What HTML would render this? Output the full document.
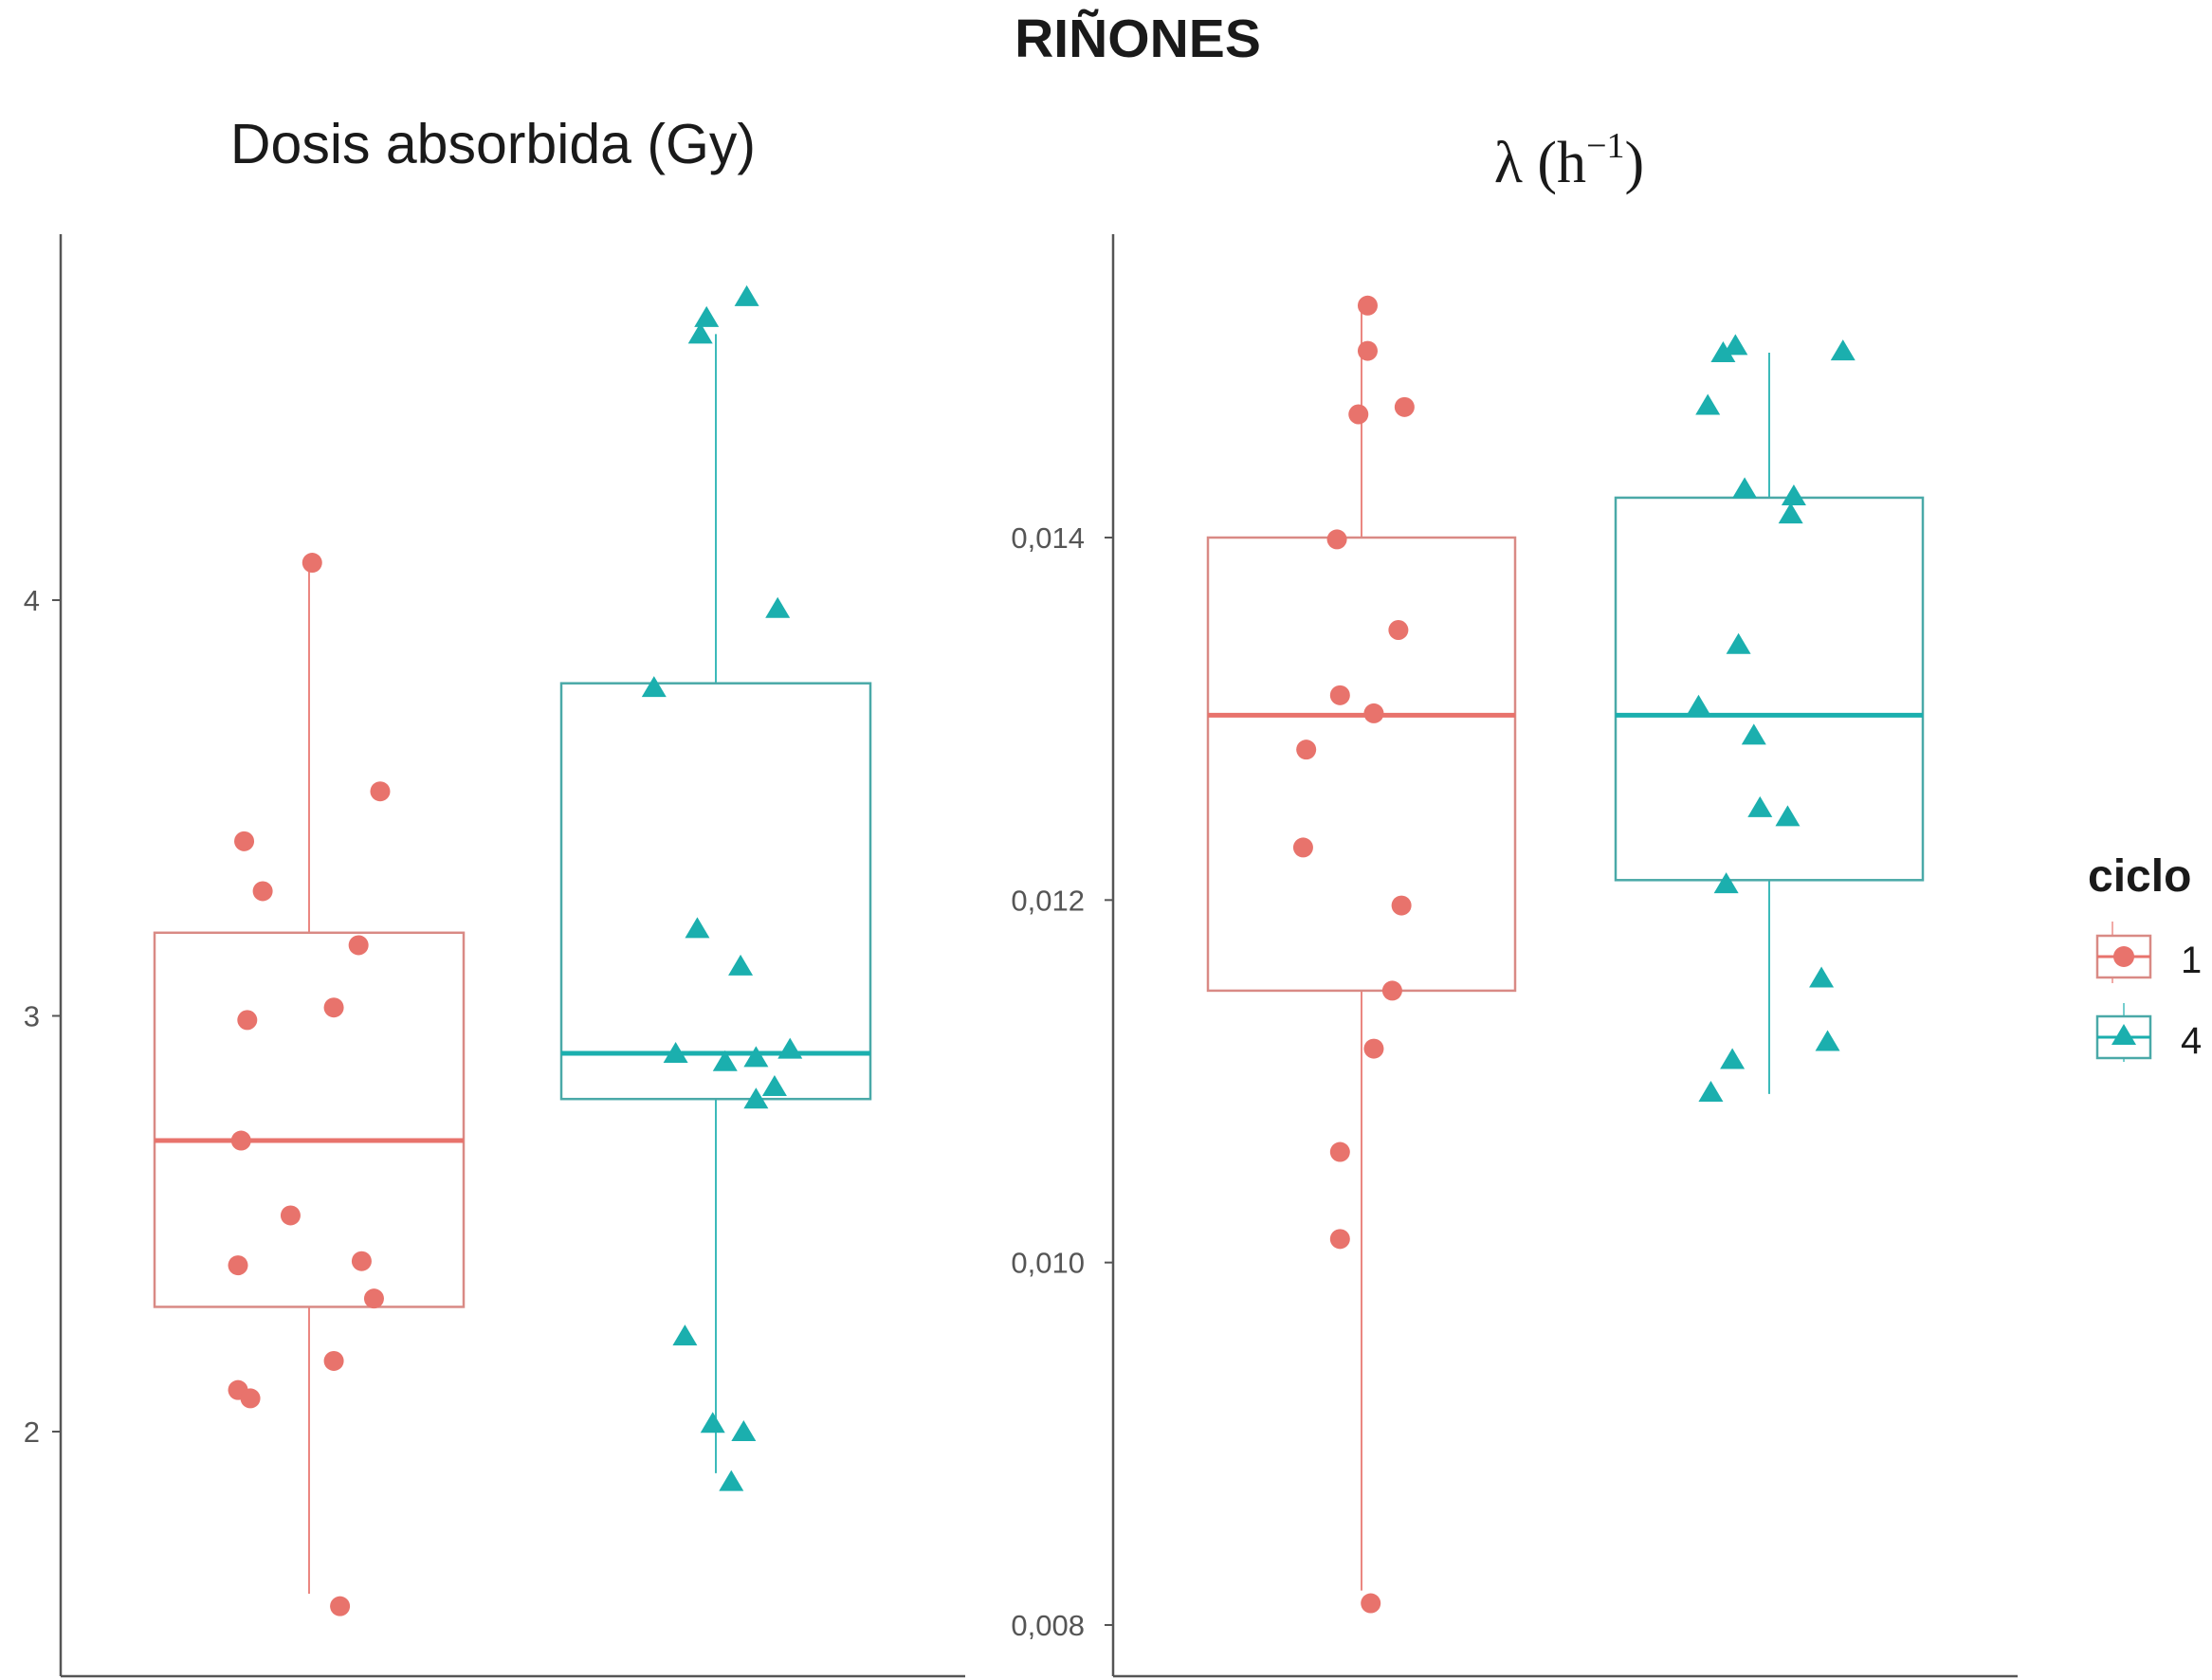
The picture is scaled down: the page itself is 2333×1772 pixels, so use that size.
<!DOCTYPE html>
<html><head><meta charset="utf-8"><style>
html,body{margin:0;padding:0;background:#fff}
svg{display:block}
text{font-family:"Liberation Sans",Arial,sans-serif}
</style></head><body>
<svg id="chart" width="2333" height="1772" viewBox="0 0 2333 1772" xmlns="http://www.w3.org/2000/svg">
<text x="1200" y="60" font-size="57" font-weight="bold" text-anchor="middle" fill="#1a1a1a">RIÑONES</text>
<text x="520" y="172" font-size="59" text-anchor="middle" fill="#1a1a1a">Dosis absorbida (Gy)</text>
<text x="1655" y="192" font-size="62" text-anchor="middle" fill="#1a1a1a" style="font-family:'Liberation Serif',serif">λ (h<tspan font-size="38" dy="-26">−1</tspan><tspan dy="26">)</tspan></text>
<g id="p1"></g>
<g id="p2"></g>
<g>
<text x="2202" y="940" font-size="48" font-weight="bold" fill="#1a1a1a">ciclo</text>
<g>
<line x1="2228" y1="972" x2="2228" y2="1037" stroke="#E8736C" stroke-width="2" opacity="0.6"/>
<rect x="2212" y="987" width="56" height="44" fill="#fff" stroke="#d98a85" stroke-width="2.5"/>
<line x1="2212" y1="1009" x2="2268" y2="1009" stroke="#E8736C" stroke-width="3"/>
<circle cx="2240" cy="1009" r="11" fill="#E8736C"/>
<text x="2300" y="1026" font-size="40" fill="#1a1a1a">1</text></g>
<g>
<line x1="2240" y1="1058" x2="2240" y2="1120" stroke="#1BAFAE" stroke-width="2" opacity="0.6"/>
<rect x="2212" y="1072" width="56" height="44" fill="#fff" stroke="#4aa9a8" stroke-width="2.5"/>
<line x1="2212" y1="1094" x2="2268" y2="1094" stroke="#1BAFAE" stroke-width="3"/>
<polygon points="2240,1080 2253,1102 2227,1102" fill="#1BAFAE"/>
<text x="2300" y="1111" font-size="40" fill="#1a1a1a">4</text></g>
</g>
</svg>
<script>
const NS='http://www.w3.org/2000/svg';
const RED='#E8736C', TEAL='#1BAFAE';
// Panel 1: Dosis absorbida (Gy)
const doseTicks=[2,3,4];
const doseTickLabels=['2','3','4'];
const doseStats1=[1.61,2.30,2.70,3.20,4.09]; // min,q1,med,q3,max
const doseStats4=[1.90,2.80,2.91,3.80,4.64];
const dosePts1=[4.09,3.54,3.42,3.30,3.17,3.02,2.99,2.70,2.52,2.40,2.41,2.32,2.17,2.10,2.08,1.58];
const doseJit1=[0.01,0.23,-0.21,-0.15,0.16,0.08,-0.20,-0.22,-0.06,-0.23,0.17,0.21,0.08,-0.23,-0.19,0.10];
const dosePts4=[4.73,4.68,4.64,3.98,3.79,3.21,3.12,2.91,2.89,2.90,2.92,2.83,2.80,2.23,2.02,2.00,1.88];
const doseJit4=[0.10,-0.03,-0.05,0.20,-0.20,-0.06,0.08,-0.13,0.03,0.13,0.24,0.19,0.13,-0.10,-0.01,0.09,0.05];
// Panel 2: lambda (h^-1)
const lamTicks=[0.008,0.010,0.012,0.014];
const lamTickLabels=['0,008','0,010','0,012','0,014'];
const lamStats1=[0.00819,0.01150,0.01302,0.01400,0.01529];
const lamStats4=[0.01093,0.01211,0.01302,0.01422,0.01502];
const lamPts1=[0.01528,0.01503,0.01468,0.01472,0.01399,0.01349,0.01313,0.01303,0.01283,0.01229,0.01197,0.01150,0.01118,0.01061,0.01013,0.00812];
const lamJit1=[0.02,0.02,-0.01,0.14,-0.08,0.12,-0.07,0.04,-0.18,-0.19,0.13,0.10,0.04,-0.07,-0.07,0.03];
const lamPts4=[0.01506,0.01502,0.01503,0.01473,0.01427,0.01423,0.01413,0.01341,0.01307,0.01291,0.01251,0.01246,0.01209,0.01157,0.01112,0.01122,0.01094];
const lamJit4=[-0.11,-0.15,0.24,-0.20,-0.08,0.08,0.07,-0.10,-0.23,-0.05,-0.03,0.06,-0.14,0.17,-0.12,0.19,-0.19];

function el(tag,attrs,parent){const e=document.createElementNS(NS,tag);for(const k in attrs)e.setAttribute(k,attrs[k]);parent.appendChild(e);return e;}

function panel(g,cfg){
  const y=v=>cfg.y0+(v-cfg.v0)*(cfg.y1-cfg.y0)/(cfg.v1-cfg.v0);
  const cx=c=>cfg.cx[c];
  const bw=cfg.bw;
  const ya=el('line',{x1:cfg.ax,y1:cfg.top,x2:cfg.ax,y2:cfg.bot,stroke:'#555','stroke-width':2.5},g);
  
  
  const xa=el('line',{x1:cfg.ax,y1:cfg.bot,x2:cfg.right,y2:cfg.bot,stroke:'#555','stroke-width':2.5},g);
  
  
  cfg.ticks.forEach((t,i)=>{
    const tk=el('line',{x1:cfg.ax-9,y1:y(t),x2:cfg.ax,y2:y(t),stroke:'#555','stroke-width':2},g);
    
    
    const tl=el('text',{x:cfg.ax-cfg.lo,y:y(t)+11,'font-size':31,'text-anchor':'end',fill:'#555'},g);
    tl.textContent=cfg.labels[i];
    
    
  });
  [[cfg.s1,RED,'#d98a85','ciclo-1'],[cfg.s4,TEAL,'#4aa9a8','ciclo-4']].forEach(([s,col,bc,nm],c)=>{
    const x=cx(c);
    const bg=el('g',{},g);
    
    
    el('line',{x1:x,y1:y(s[0]),x2:x,y2:y(s[1]),stroke:col,'stroke-width':2,opacity:0.85},bg);
    el('line',{x1:x,y1:y(s[3]),x2:x,y2:y(s[4]),stroke:col,'stroke-width':2,opacity:0.85},bg);
    el('rect',{x:x-bw/2,y:y(s[3]),width:bw,height:y(s[1])-y(s[3]),fill:'none',stroke:bc,'stroke-width':2.5},bg);
    el('line',{x1:x-bw/2,y1:y(s[2]),x2:x+bw/2,y2:y(s[2]),stroke:col,'stroke-width':5},bg);
  });
  cfg.p1.forEach((v,i)=>{
    const pt=el('circle',{cx:cx(0)+cfg.j1[i]*cfg.unit,cy:y(v),r:10.5,fill:RED},g);
    
    
  });
  cfg.p4.forEach((v,i)=>{
    const px=cx(1)+cfg.j4[i]*cfg.unit, py=y(v);
    const pt=el('polygon',{points:`${px},${py-12} ${px+13},${py+10} ${px-13},${py+10}`,fill:TEAL},g);
    
    
  });
}
panel(document.getElementById('p1'),{v0:2,v1:4,y0:1510,y1:633,ax:64,top:247,bot:1768,right:1018,cx:[326,755],bw:326,unit:326,lo:22,
  ticks:doseTicks,labels:doseTickLabels,s1:doseStats1,s4:doseStats4,p1:dosePts1,j1:doseJit1,p4:dosePts4,j4:doseJit4});
panel(document.getElementById('p2'),{v0:0.008,v1:0.014,y0:1714,y1:567,ax:1174,top:247,bot:1768,right:2128,cx:[1436,1866],bw:324,unit:324,lo:30,
  ticks:lamTicks,labels:lamTickLabels,s1:lamStats1,s4:lamStats4,p1:lamPts1,j1:lamJit1,p4:lamPts4,j4:lamJit4});
</script>
</body></html>
